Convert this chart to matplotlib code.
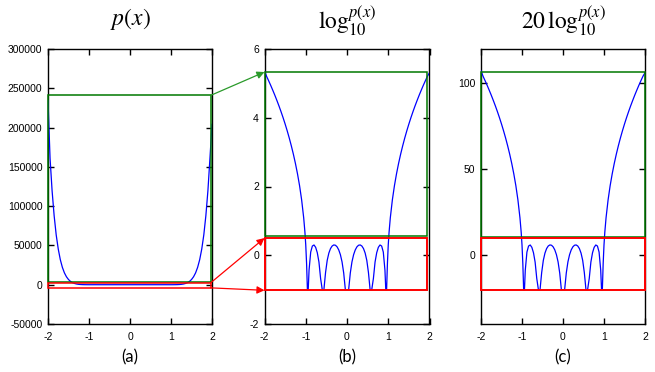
import matplotlib
matplotlib.use("Agg")
import matplotlib.pyplot as plt
from matplotlib.patches import Rectangle, ConnectionPatch
import numpy as np

# ---- data: log10 |p(x)| (clipped at -1) ----
x_vals = [-2.00, -1.95, -1.90, -1.85, -1.80, -1.75, -1.70, -1.65, -1.60, -1.55,
          -1.50, -1.45, -1.40, -1.35, -1.30, -1.25, -1.20, -1.15, -1.10, -1.05,
          -1.02, -1.00, -0.98, -0.96, -0.94, -0.92, -0.88, -0.84, -0.80, -0.76,
          -0.72, -0.68, -0.64, -0.60, -0.56, -0.52, -0.48, -0.44, -0.40, -0.36,
          -0.32, -0.28, -0.24, -0.20, -0.16, -0.12, -0.08, -0.04, 0.00,
          0.04, 0.08, 0.12, 0.16, 0.20, 0.24, 0.28, 0.32, 0.36, 0.40,
          0.44, 0.48, 0.52, 0.56, 0.60, 0.64, 0.68, 0.72, 0.76, 0.80,
          0.84, 0.88, 0.92, 0.94, 0.96, 0.98, 1.00, 1.02, 1.05, 1.10,
          1.15, 1.20, 1.25, 1.30, 1.35, 1.40, 1.45, 1.50, 1.55, 1.60,
          1.65, 1.70, 1.75, 1.80, 1.85, 1.90, 1.95, 2.00]
log_vals = [5.37, 5.207, 5.077, 4.943, 4.802, 4.657, 4.504, 4.346, 4.179, 4.004,
            3.818, 3.621, 3.411, 3.184, 2.939, 2.669, 2.368, 2.024, 1.613, 1.090,
            0.671, 0.301, -0.236, -1.0, -1.0, -0.435, 0.092, 0.268, 0.299, 0.231,
            0.073, -0.199, -0.676, -1.0, -1.0, -0.503, -0.149, 0.063, 0.194, 0.269,
            0.300, 0.291, 0.244, 0.155, 0.016, -0.194, -0.517, -1.0, -1.0,
            -1.0, -0.517, -0.194, 0.016, 0.155, 0.244, 0.291, 0.300, 0.269, 0.194,
            0.063, -0.149, -0.503, -1.0, -1.0, -0.676, -0.199, 0.073, 0.231, 0.299,
            0.268, 0.092, -0.435, -1.0, -1.0, -0.236, 0.301, 0.671, 1.090, 1.613,
            2.024, 2.368, 2.669, 2.939, 3.184, 3.411, 3.621, 3.818, 4.004, 4.179,
            4.346, 4.504, 4.657, 4.802, 4.943, 5.077, 5.207, 5.31]

# boxes (y ranges) in each panel
green_a = (3500, 241000)
red_a = (-4000, 2500)
green_b = (0.55, 5.33)
red_b = (-1.02, 0.50)
green_c = (10.6, 106.5)
red_c = (-20.4, 10.0)

xticks = [-2, -1, 0, 1, 2]
yticks_a = [-50000, 0, 50000, 100000, 150000, 200000, 250000, 300000]
yticks_b = [-2, 0, 2, 4, 6]
yticks_c = [0, 50, 100]

x = np.array(x_vals)
lg = np.array(log_vals)
p_vals = np.where(lg > -1.0, 10.0 ** lg, 0.0)
db_vals = 20 * lg

plt.rcParams['mathtext.fontset'] = 'stix'
plt.rcParams['font.family'] = ['Liberation Sans', 'DejaVu Sans']

fig = plt.figure(figsize=(6.55, 3.72), dpi=100)
W, H = 655.0, 372.0

def mkax(left, right, top, bottom):
    return fig.add_axes([left / W, 1 - bottom / H, (right - left) / W, (bottom - top) / H])

axa = mkax(48, 212, 49, 324)
axb = mkax(264.5, 429.5, 49, 324)
axc = mkax(481, 645, 49, 324)

BLUE = '#0000ff'
GREEN = '#007800'
GREEN_AR = '#2a9a2a'
RED = '#ff0000'

for ax in (axa, axb, axc):
    ax.set_xlim(-2, 2)
    ax.set_xticks(xticks)
    ax.set_xticklabels([str(t) for t in xticks])
    ax.tick_params(direction='in', top=True, right=True, length=4, width=1,
                   labelsize=7.5, colors='black')
    ax.tick_params(axis='x', pad=6)
    ax.tick_params(axis='y', pad=4)
    for s in ax.spines.values():
        s.set_linewidth(1.0)

axa.set_ylim(-50000, 300000)
axa.set_yticks(yticks_a)
axa.set_yticklabels([str(t) for t in yticks_a])
axb.set_ylim(-2, 6)
axb.set_yticks(yticks_b)
axb.set_yticklabels([str(t) for t in yticks_b])
axc.set_ylim(-40, 120)
axc.set_yticks(yticks_c)
axc.set_yticklabels([str(t) for t in yticks_c])

axa.plot(x, p_vals, color=BLUE, lw=0.9, zorder=3)
axb.plot(x, lg, color=BLUE, lw=0.9, zorder=3)
axc.plot(x, db_vals, color=BLUE, lw=0.9, zorder=3)

def box(ax, x0, x1, yr, color, lw):
    r = Rectangle((x0, yr[0]), x1 - x0, yr[1] - yr[0], fill=False,
                  edgecolor=color, lw=lw, clip_on=False, zorder=4)
    ax.add_patch(r)

box(axa, -2, 1.97, green_a, GREEN, 1.1)
box(axa, -2, 1.97, red_a, RED, 1.1)
box(axb, -2, 1.95, green_b, GREEN, 1.1)
box(axb, -2, 1.95, red_b, RED, 1.4)
box(axc, -2, 2.0, green_c, GREEN, 1.1)
box(axc, -2, 2.0, red_c, RED, 1.4)

def arrow(xya, xyb, color):
    cp = ConnectionPatch(xyA=xya, coordsA=axa.transData, xyB=xyb, coordsB=axb.transData,
                         arrowstyle='-|>', mutation_scale=11, color=color, lw=0.9,
                         shrinkA=0, shrinkB=0, zorder=6)
    fig.add_artist(cp)

arrow((1.97, green_a[1]), (-2, green_b[1]), GREEN_AR)
arrow((1.97, red_a[1]), (-2, red_b[1]), RED)
arrow((1.97, red_a[0]), (-2, red_b[0]), RED)

fig.text(130 / W, 1 - 19 / H, r'$p(x)$', ha='center', va='center', fontsize=17)
fig.text(347 / W, 1 - 21 / H, r'$\mathrm{log}_{10}^{p(x)}$', ha='center', va='center', fontsize=17)
fig.text(563 / W, 1 - 21 / H, r'$20\,\mathrm{log}_{10}^{p(x)}$', ha='center', va='center', fontsize=17)

for cx, lab in ((130, '(a)'), (347, '(b)'), (563, '(c)')):
    fig.text(cx / W, 1 - 357 / H, lab, ha='center', va='center', fontsize=12,
             family=['Lato', 'DejaVu Sans'])

fig.savefig('out.png', dpi=100)
